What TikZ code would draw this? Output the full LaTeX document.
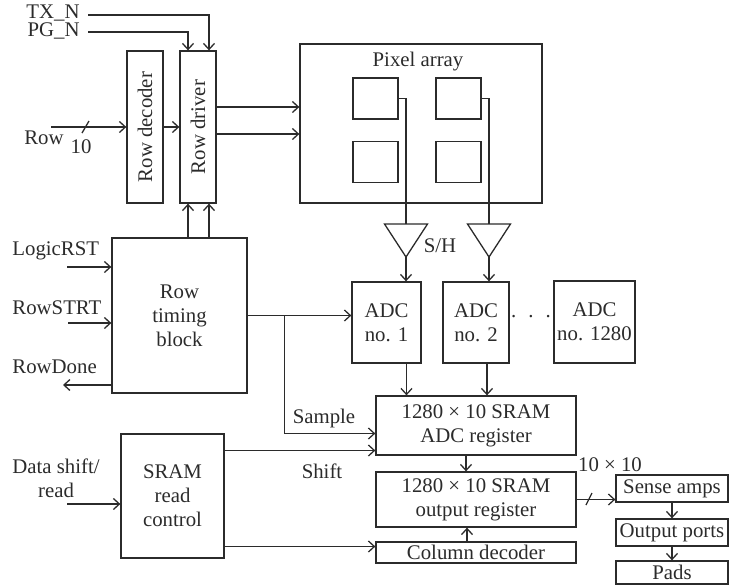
\documentclass[tikz,border=0pt]{standalone}
\usepackage{fontspec}
\setmainfont{Liberation Serif}
\usetikzlibrary{arrows.meta,calc}
\definecolor{inkline}{HTML}{2B2B2B}

\begin{document}
\begin{tikzpicture}[x=0.5pt, y=-0.5pt,
        every node/.style={font=\fontsize{10.4}{12}\selectfont, text=inkline},
        blk/.style={draw=inkline, line width=0.65pt, inner sep=1pt, align=center},
        pxl/.style={draw=inkline, line width=0.65pt, minimum width=22.5pt,
                    minimum height=20.5pt, inner sep=0pt},
        arr/.style={-{Straight Barb[length=3pt,width=5.5pt]}},
        wire/.style={draw=inkline, line width=0.65pt},
        lbl/.style={inner sep=0pt}]
      % Page frame in pixel units (y runs downwards)
      \useasboundingbox (0,0) rectangle (729,585);

      % Row decoder and driver
      \node[blk, minimum width=18pt, minimum height=76pt,
            label={[rotate=90]center:Row decoder}] (rowdec) at (145,127) {};
      \node[blk, minimum width=18pt, minimum height=76pt,
            label={[rotate=90]center:Row driver}] (rowdrv) at (198,127) {};

      % Pixel array with four pixels
      \node[blk, minimum width=121pt, minimum height=79.5pt] (pix) at (421,123.5) {};
      \node (pixlbl) at (418,62) {Pixel array};
      \foreach \n/\xp/\yp in {1/375.5/98.5, 2/458.5/98.5, 3/375.5/162, 4/458.5/162} {
        \node[pxl] (sq\n) at (\xp,\yp) {};
      }

      % Sample/hold amplifiers
      \coordinate (sh1) at (406,224);  \coordinate (sh1o) at (406,257);
      \coordinate (sh2) at (489,224);  \coordinate (sh2o) at (489,257);
      \draw[wire] (sh1) ++(-21.5,0) -- ++(43,0) -- (sh1o) -- cycle;
      \draw[wire] (sh2) ++(-21.5,0) -- ++(43,0) -- (sh2o) -- cycle;
      \node (shlbl) at (440,246) {S/H};

      % ADC bank
      \node[blk, minimum width=34.5pt, minimum height=40.5pt] (adc1) at (386.5,322.5) {ADC\\no. 1};
      \node[blk, minimum width=33pt, minimum height=40.5pt] (adc2) at (476,322.5) {ADC\\no. 2};
      \node[blk, minimum width=40.5pt, minimum height=41pt] (adcn) at (594.5,322) {ADC\\no. 1280};
      \node (dots) at (531,317) {. \ . \ .};

      % Control blocks
      \node[blk, minimum width=67.5pt, minimum height=77.5pt] (timing) at (179.5,315.5) {Row\\timing\\block};
      \node[blk, minimum width=51.5pt, minimum height=62pt] (srctrl) at (172.5,496) {SRAM\\read\\control};

      % SRAM registers and column decoder
      \node[blk, minimum width=100pt, minimum height=29.5pt] (adcreg) at (476,425.5) {1280 × 10 SRAM\\ADC register};
      \node[blk, minimum width=100pt, minimum height=27.5pt] (outreg) at (476,499.5) {1280 × 10 SRAM\\output register};
      \node[blk, minimum width=100pt, minimum height=10.5pt] (coldec) at (476,552.5) {Column decoder};

      % Output chain
      \node[blk, minimum width=56pt, minimum height=13.5pt] (sense) at (672,488.5) {Sense amps};
      \node[blk, minimum width=56pt, minimum height=13.5pt] (ports) at (672,532.5) {Output ports};
      \node[blk, minimum width=56pt, minimum height=11.5pt] (pads) at (672,572.5) {Pads};
      \node (bus) at (610,465) {10 × 10};

      % Input and output labels
      \node[lbl, anchor=east] (txn) at (80,13) {TX\_N};
      \node[lbl, anchor=east] (pgn) at (80,31) {PG\_N};
      \node (rowlbl) at (44,138) {Row};
      \node (rowbits) at (81,147) {10};
      \node[lbl, anchor=west] (lrstlbl) at (12,251) {LogicRST};
      \node[lbl, anchor=west] (rstrtlbl) at (12,308) {RowSTRT};
      \node[lbl, anchor=west] (rdonelbl) at (12,367) {RowDone};
      \node[lbl, align=center] (dslbl) at (56,478) {Data shift/\\read};
      \node (smplbl) at (324,418) {Sample};
      \node (shflbl) at (322,471) {Shift};

      % Free ends of the external signals
      \coordinate (rowin) at (51,127);
      \coordinate (lrst) at (67,267);
      \coordinate (rstrt) at (68,323);
      \coordinate (rdone) at (63,385);
      \coordinate (dsin) at (67,504);

      % Row path
      \draw[wire, arr] ($(txn.east)+(8,2)$) -| ($(rowdrv.north)+(11,0)$);
      \draw[wire, arr] ($(pgn.east)+(8,1)$) -| ($(rowdrv.north)+(-10,0)$);
      \draw[wire, arr] (rowin) -- (rowdec.west);
      \draw[wire] (82,133) -- (89,121);
      \draw[wire, arr] (rowdec.east) -- (rowdrv.west);
      \draw[wire, arr] ($(rowdrv.east)+(0,-20)$) coordinate (d1) -- (d1 -| pix.west);
      \draw[wire, arr] ($(rowdrv.east)+(0,7)$) coordinate (d2) -- (d2 -| pix.west);
      \foreach \dx in {-10, 11} {
        \coordinate (u) at ($(rowdrv.south)+(\dx,0)$);
        \draw[wire, arr] (u |- timing.north) -- (u);
      }

      % Pixel columns to the ADCs
      \draw[wire] (sq1.east) -| (sh1);
      \draw[wire] (sq2.east) -| (sh2);
      \draw[wire, arr] (sh1o) -- (sh1o |- adc1.north);
      \draw[wire, arr] (sh2o) -- (sh2o |- adc2.north);
      \draw[wire, arr] ($(adc1.south)+(20,0)$) coordinate (a1) -- (a1 |- adcreg.north);
      \draw[wire, arr] ($(adc2.south)+(11,0)$) coordinate (a2) -- (a2 |- adcreg.north);

      % Timing block signals
      \draw[wire, arr] (lrst) -- (lrst -| timing.west);
      \draw[wire, arr] (rstrt) -- (rstrt -| timing.west);
      \draw[wire, arr] (rdone -| timing.west) -- (rdone);
      \draw[wire, arr] (timing.east) -- (timing.east -| adc1.west);
      \coordinate (br) at ($(timing.east)+(37,0)$);
      \draw[wire, arr] (br) |- ($(adcreg.west)+(0,8)$);

      % SRAM read control signals
      \draw[wire, arr] (dsin) -- (dsin -| srctrl.west);
      \coordinate (shf) at ($(adcreg.west)+(0,25)$);
      \draw[wire, arr] (shf -| srctrl.east) -- (shf);
      \coordinate (cdin) at ($(coldec.west)+(0,-6)$);
      \draw[wire, arr] (cdin -| srctrl.east) -- (cdin);

      % Register transfers and output chain
      \draw[wire, arr] ($(adcreg.south)+(-10,0)$) coordinate (r1) -- (r1 |- outreg.north);
      \draw[wire, arr] ($(coldec.north)+(-9,0)$) coordinate (r2) -- (r2 |- outreg.south);
      \draw[wire, arr] (outreg.east) -- (outreg.east -| sense.west);
      \draw[wire] (586,505) -- (592,493);
      \draw[wire, arr] (sense.south) -- (ports.north);
      \draw[wire, arr] (ports.south) -- (pads.north);

    \end{tikzpicture}
\end{document}
